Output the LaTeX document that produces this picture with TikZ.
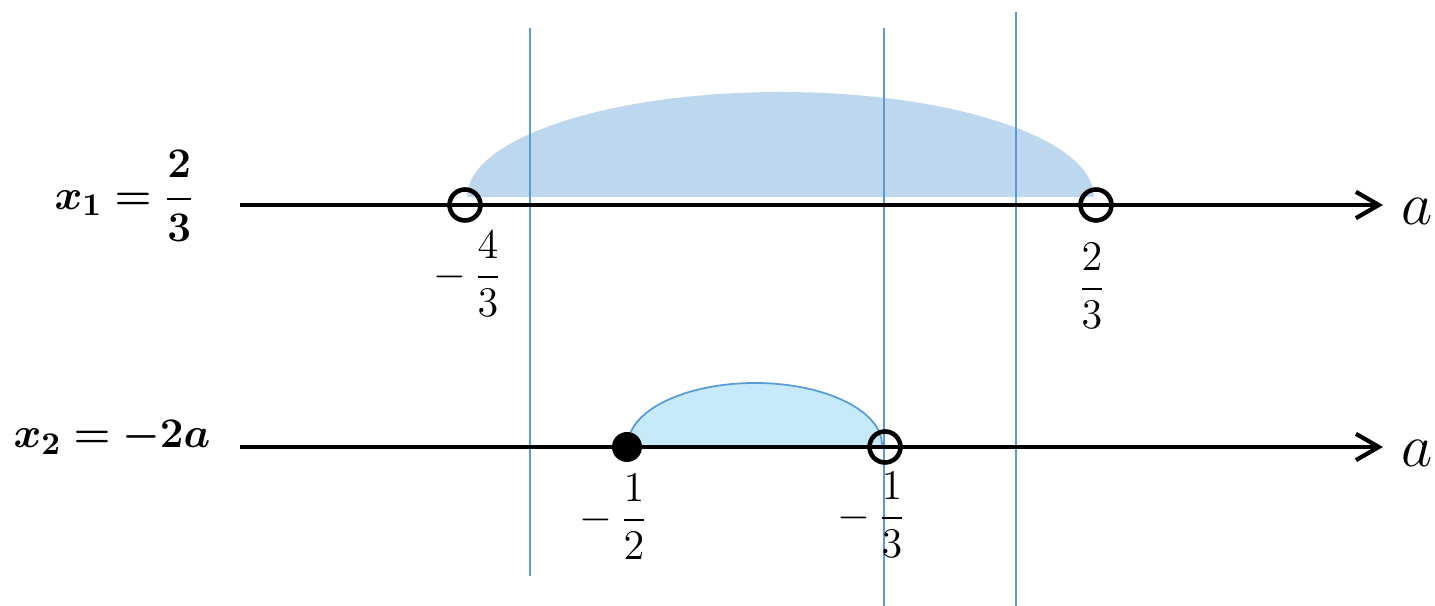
\documentclass[tikz,border=0pt]{standalone}
\usepackage{amsmath,amssymb,bm}
\usetikzlibrary{arrows.meta,positioning}
\definecolor{GuideBlue}{RGB}{91,155,213}
\definecolor{RangeBlue}{RGB}{189,215,238}
\definecolor{RangeCyan}{RGB}{198,234,249}

\begin{document}
\begin{tikzpicture}[x=0.01cm,y=0.01cm,>={Straight Barb[length=6.5pt,width=7.5pt]},
    font=\fontsize{12.5}{15}\selectfont,
    axis/.style={->,line width=1.2pt},
    guide/.style={GuideBlue,line width=0.6pt},
    hole/.style={line width=1.3pt},
    varlabel/.style={inner sep=0pt,anchor=base,font=\fontsize{16}{19}\selectfont}]
      \useasboundingbox (0,0) rectangle (1435,606);
      \fill[RangeBlue] (467,409) arc[start angle=180,end angle=0,x radius=313.5,y radius=105] -- cycle;
      \filldraw[fill=RangeCyan,draw=GuideBlue,line width=0.5pt] (628,161) arc[start angle=180,end angle=0,x radius=127,y radius=62];
      \draw[guide] (530,30)--(530,578);
      \draw[guide] (884,0)--(884,578);
      \draw[guide] (1016,0)--(1016,594);
      \coordinate (top0) at (240,401);
      \coordinate (top1) at (1383,401);
      \coordinate (bot0) at (240,159);
      \coordinate (bot1) at (1383,159);
      \draw[axis] (top0)--(top1);
      \draw[axis] (bot0)--(bot1);
      \node[varlabel] (atop) at (1417,381) {$a$};
      \node[varlabel] (abot) at (1417,139) {$a$};
      \draw[hole] (465,401) circle[radius=15.5];
      \draw[hole] (1096,401) circle[radius=15.5];
      \fill (627,159) circle[radius=15];
      \draw[hole] (885,159) circle[radius=15.5];
      \node[inner sep=0pt] (xone) at (125,410) {$\bm{x_1=\dfrac{2}{3}}$};
      \node[inner sep=0pt,anchor=base] (xtwo) at (112,158) {$\bm{x_2=-2a}$};
      \node[inner sep=0pt] (lfour) at (468,332) {$-\,\dfrac{4}{3}$};
      \node[inner sep=0pt] (rtwo) at (1092,320) {$\dfrac{2}{3}$};
      \node[inner sep=0pt] (lhalf) at (614,89) {$-\,\dfrac{1}{2}$};
      \node[inner sep=0pt] (lthird) at (872,91) {$-\,\dfrac{1}{3}$};
    \end{tikzpicture}
\end{document}
